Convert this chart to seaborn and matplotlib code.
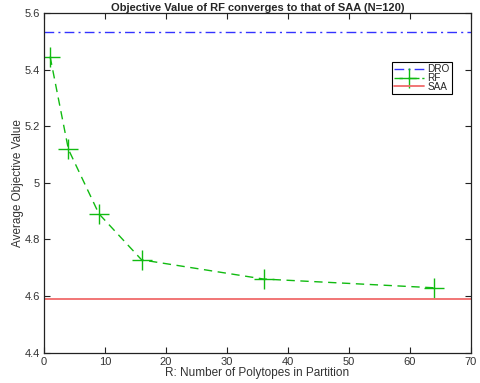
import matplotlib
matplotlib.use("Agg")
import matplotlib.pyplot as plt
import seaborn as sns
import pandas as pd
from matplotlib.ticker import FixedLocator, FixedFormatter

R_values = [1, 4, 9, 16, 36, 64]
rf_values = [5.447, 5.119, 4.891, 4.728, 4.660, 4.629]
dro_value = 5.533
saa_value = 4.588
x_ticks = [0, 10, 20, 30, 40, 50, 60, 70]
y_ticks = [4.4, 4.6, 4.8, 5.0, 5.2, 5.4, 5.6]
y_tick_labels = ["4.4", "4.6", "4.8", "5", "5.2", "5.4", "5.6"]

sns.set_style("white")
plt.rcParams["font.family"] = ["Liberation Sans", "DejaVu Sans"]

fig = plt.figure(figsize=(4.81, 3.83), dpi=100)
ax = fig.add_axes([0.0915, 0.0796, 0.8875, 0.8854])

df = pd.DataFrame({"R": R_values, "obj": rf_values})

green = "#11bb11"
ax.axhline(dro_value, color="#3333ff", lw=1.0, ls=(0, (7, 3, 1.5, 3)), label="DRO")
sns.lineplot(data=df, x="R", y="obj", ax=ax, color=green, lw=1.0,
             linestyle=(0, (6, 4)), marker="+", markersize=15,
             markeredgewidth=1.0, markeredgecolor=green, markerfacecolor=green,
             label="RF")
ax.axhline(saa_value, color="#f06a6a", lw=1.3, label="SAA")

ax.set_xlim(0, 70)
ax.set_ylim(4.4, 5.6)
ax.xaxis.set_major_locator(FixedLocator(x_ticks))
ax.yaxis.set_major_locator(FixedLocator(y_ticks))
ax.yaxis.set_major_formatter(FixedFormatter(y_tick_labels))
ax.tick_params(direction="in", length=4, width=0.8, top=True, right=True,
               bottom=True, left=True, labelsize=8, color="#222222",
               labelcolor="#333333", pad=3)
for s in ax.spines.values():
    s.set_visible(True)
    s.set_color("#222222")
    s.set_linewidth(0.9)

ax.set_xlabel("R: Number of Polytopes in Partition", fontsize=8.5, color="#333333", labelpad=0)
ax.set_ylabel("Average Objective Value", fontsize=8.5, color="#333333", labelpad=0)
ax.set_title("Objective Value of RF converges to that of SAA (N=120)", fontsize=8,
             fontweight="bold", pad=2)

handles, labels = ax.get_legend_handles_labels()
leg = ax.legend(handles, labels, loc="upper left", bbox_to_anchor=(0.815, 0.857),
                fontsize=7.2, frameon=True, fancybox=False, edgecolor="black",
                framealpha=1, handlelength=3.0, handletextpad=0.3,
                labelspacing=-0.12, borderpad=0.25, borderaxespad=0)
leg.get_frame().set_linewidth(0.8)

fig.savefig("out.png", dpi=100)
